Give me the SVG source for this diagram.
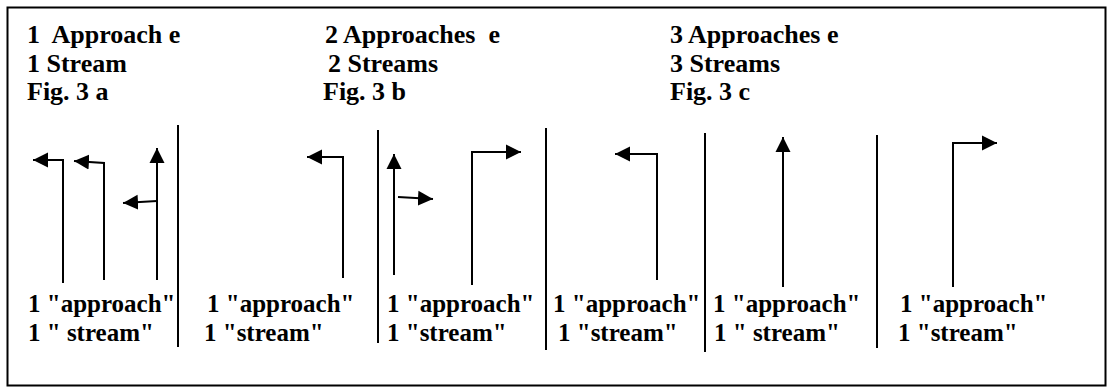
<svg xmlns="http://www.w3.org/2000/svg" width="1107" height="387" viewBox="0 0 1107 387">
<defs>
<marker id="ah" markerUnits="userSpaceOnUse" markerWidth="16" markerHeight="16" viewBox="0 0 16 16" refX="15" refY="8" orient="auto">
<path d="M0,0.5 L15,8 L0,15.5 z" fill="#000"/>
</marker>
</defs>
<rect width="1107" height="387" fill="#fff"/>
<rect x="7.5" y="7.5" width="1098" height="378" fill="none" stroke="#000" stroke-width="2"/>
<g id="headers">
<text x="27" y="43" font-family="Liberation Serif" font-weight="bold" font-size="26" xml:space="preserve">1  Approach e</text>
<text x="27" y="72" font-family="Liberation Serif" font-weight="bold" font-size="26">1 Stream</text>
<text x="27" y="100" font-family="Liberation Serif" font-weight="bold" font-size="26">Fig. 3 a</text>
<text x="325" y="43" font-family="Liberation Serif" font-weight="bold" font-size="26" xml:space="preserve">2 Approaches  e</text>
<text x="328" y="72" font-family="Liberation Serif" font-weight="bold" font-size="26">2 Streams</text>
<text x="323" y="100" font-family="Liberation Serif" font-weight="bold" font-size="26">Fig. 3 b</text>
<text x="670" y="43" font-family="Liberation Serif" font-weight="bold" font-size="26">3 Approaches e</text>
<text x="670" y="72" font-family="Liberation Serif" font-weight="bold" font-size="26">3 Streams</text>
<text x="670" y="100" font-family="Liberation Serif" font-weight="bold" font-size="26">Fig. 3 c</text>
</g>
<g id="dividers" stroke="#000" stroke-width="2">
<line x1="178" y1="125" x2="178" y2="347"/>
<line x1="378" y1="130" x2="378" y2="343"/>
<line x1="546" y1="128" x2="546" y2="350"/>
<line x1="705" y1="133" x2="705" y2="352"/>
<line x1="877" y1="135" x2="877" y2="348"/>
</g>
<g id="labels">
<text x="28" y="312" font-family="Liberation Serif" font-weight="bold" font-size="25">1 "approach"</text>
<text x="28" y="341" font-family="Liberation Serif" font-weight="bold" font-size="25" xml:space="preserve">1 " stream"</text>
<text x="207" y="312" font-family="Liberation Serif" font-weight="bold" font-size="25">1 "approach"</text>
<text x="204" y="341" font-family="Liberation Serif" font-weight="bold" font-size="25">1 "stream"</text>
<text x="387" y="312" font-family="Liberation Serif" font-weight="bold" font-size="25">1 "approach"</text>
<text x="387" y="341" font-family="Liberation Serif" font-weight="bold" font-size="25">1 "stream"</text>
<text x="553" y="312" font-family="Liberation Serif" font-weight="bold" font-size="25">1 "approach"</text>
<text x="558" y="341" font-family="Liberation Serif" font-weight="bold" font-size="25">1 "stream"</text>
<text x="713" y="312" font-family="Liberation Serif" font-weight="bold" font-size="25">1 "approach"</text>
<text x="714" y="341" font-family="Liberation Serif" font-weight="bold" font-size="25" xml:space="preserve">1 " stream"</text>
<text x="900" y="312" font-family="Liberation Serif" font-weight="bold" font-size="25">1 "approach"</text>
<text x="898" y="341" font-family="Liberation Serif" font-weight="bold" font-size="25">1 "stream"</text>
</g>
<g id="connectors" fill="none" stroke="#000" stroke-width="2" marker-end="url(#ah)">
<path d="M63,283 V160 H33"/>
<path d="M104,280 V163 L74,161"/>
<path d="M157,280 V148"/>
<path d="M157,201 L123,203"/>
<path d="M343,278 V157 H307"/>
<path d="M394,275 V154"/>
<path d="M398,197 L433,199"/>
<path d="M472,285 V152 H521"/>
<path d="M657,280 V154 H615"/>
<path d="M783,287 V137"/>
<path d="M953,287 V143 H997"/>
</g>
</svg>
